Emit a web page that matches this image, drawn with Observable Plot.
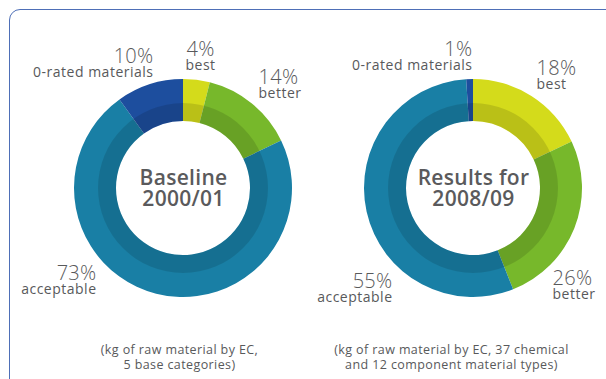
<!DOCTYPE html>
<html>
<head>
<meta charset="utf-8">
<script src="https://cdn.jsdelivr.net/npm/d3@7"></script>
<script src="https://cdn.jsdelivr.net/npm/@observablehq/plot@0.6"></script>
<style>
  html, body { margin: 0; padding: 0; background: #fff; }
  #wrap { position: relative; width: 606px; height: 379px; overflow: hidden; }
  #frame { position: absolute; left: 9px; top: 9px; width: 640px; height: 420px;
           border: 1.5px solid #4e6fb7; border-radius: 11px; box-sizing: border-box; pointer-events: none; }
  svg { display: block; }
  svg g[font-size="14"] { letter-spacing: 0.5px; }
  svg g[font-size="12.5"] { letter-spacing: 0.4px; }
  svg g[font-size="21"] { letter-spacing: 0.3px; }
  svg g[font-size="20"] { letter-spacing: 0.3px; }
</style>
</head>
<body>
<div id="wrap"><div id="frame"></div><div id="chart"></div></div>
<script>
// ---------------- data ----------------
const periods = ["Baseline 2000/01", "Results for 2008/09"];
const periodLabels = ["Baseline\n2000/01", "Results for\n2008/09"];
const categories = ["best", "better", "acceptable", "0-rated materials"];
const baselineShares = [4, 14, 73, 10];
const resultsShares = [18, 26, 55, 1];
const captions = [
  "(kg of raw material by EC,\n5 base categories)",
  "(kg of raw material by EC, 37 chemical\nand 12 component material types)"
];

// ---------------- style / layout ----------------
const colors = ["#d4db1b", "#77b82b", "#197fa5", "#1d4e9e"];
const textColor = "#58595b";
const R_OUTER = 109, R_MID = 85, R_INNER = 67;
// label anchor offsets (px) from each donut centre: [dx, dy of % baseline, anchor]
const labelLayout = [
  { "best": [17, -133, "middle"], "better": [75, -105, "start"], "acceptable": [-87, 91, "end"], "0-rated materials": [-30, -126, "end"] },
  { "best": [63, -114, "start"], "better": [79, 96, "start"], "acceptable": [-81, 99, "end"], "0-rated materials": [-1, -133, "end"] }
];
const captionLayout = [[-4, 180], [-22, 180]];

const table = [];
[baselineShares, resultsShares].forEach((vals, i) =>
  vals.forEach((v, j) => table.push({ period: periods[i], category: categories[j], share: v })));

const color = Plot.scale({ color: { type: "ordinal", domain: categories, range: colors } });

// custom donut mark drawn through Plot's x scale
function donut(data) {
  return (index, scales, values, dimensions) => {
    const cy = dimensions.marginTop + (dimensions.height - dimensions.marginTop - dimensions.marginBottom) / 2;
    const g = d3.create("svg:g");
    for (const p of periods) {
      const rows = data.filter(d => d.period === p);
      const arcs = d3.pie().sort(null).value(d => d.share)(rows);
      const gg = g.append("g").attr("transform", `translate(${scales.x(p)},${cy})`);
      gg.selectAll("path").data(arcs).join("path")
        .attr("d", d3.arc().innerRadius(R_INNER).outerRadius(R_OUTER))
        .attr("fill", d => color.apply(d.data.category));
      gg.append("path")
        .attr("d", d3.arc().innerRadius(R_INNER).outerRadius(R_MID).startAngle(0).endAngle(2 * Math.PI)())
        .attr("fill", "#000").attr("fill-opacity", 0.12);
    }
    return g.node();
  };
}

const marks = [donut(table)];

// centre titles
marks.push(Plot.text(periods, {
  x: d => d, text: (d, i) => periodLabels[i], fontSize: 21, fontWeight: 600,
  fill: "#5a5a5c", lineHeight: 1.0, dy: 0.5
}));

// value + category labels
table.forEach(d => {
  const pi = periods.indexOf(d.period);
  const [dx, dy, anchor] = labelLayout[pi][d.category];
  marks.push(Plot.text([d], {
    x: "period", text: r => `${r.share}%`, dx, dy, textAnchor: anchor, lineAnchor: "bottom",
    fontSize: 20, fontWeight: 300, fill: textColor
  }));
  marks.push(Plot.text([d], {
    x: "period", text: "category", dx, dy: dy + 14, textAnchor: anchor, lineAnchor: "bottom",
    fontSize: 14, fontWeight: 400, fill: textColor
  }));
});

// captions
periods.forEach((p, i) => {
  marks.push(Plot.text([p], {
    x: d => d, text: () => captions[i], dx: captionLayout[i][0], dy: captionLayout[i][1],
    lineAnchor: "bottom", lineHeight: 1.2, fontSize: 12.5, fill: textColor
  }));
});

const chart = Plot.plot({
  width: 606, height: 379,
  marginTop: 0, marginBottom: 3, marginLeft: 0, marginRight: 0,
  style: { fontFamily: "'Open Sans', sans-serif", background: "transparent" },
  x: { type: "point", domain: periods, range: [183, 473], padding: 0, axis: null },
  marks
});
document.getElementById("chart").appendChild(chart);
</script>
</body>
</html>
